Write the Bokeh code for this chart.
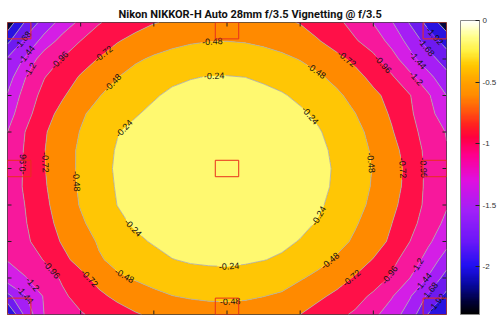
import numpy as np
import contourpy
from bokeh.plotting import figure
from bokeh.models import (FixedTicker, ColorBar, LinearColorMapper, CustomJSTickFormatter,
                          ColumnDataSource, Range1d, Title, AllLabels)
from bokeh.embed import file_html
from bokeh.resources import INLINE
from bokeh.core.properties import value

# ---------------- data (vignetting in EV) ----------------
x_grid = [0, 250, 500, 750, 1000, 1250, 1500, 1750, 2000, 2250, 2500, 2750, 3000,
          3250, 3500, 3750, 4000, 4250, 4500, 4750, 5000, 5250, 5500, 5750, 6000]
y_grid_top_down = [4000, 3750, 3500, 3250, 3000, 2750, 2500, 2250, 2000,
                   1750, 1500, 1250, 1000, 750, 500, 250, 0]

row_y4000 = [-2.32, -1.88, -1.58, -1.35, -1.14, -0.975, -0.88, -0.795, -0.73, -0.695, -0.67, -0.65, -0.645, -0.65, -0.67, -0.69, -0.73, -0.815, -0.91, -1.04, -1.21, -1.42, -1.70, -2.00, -2.30]
row_y3750 = [-1.98, -1.62, -1.36, -1.11, -0.96, -0.84, -0.735, -0.658, -0.585, -0.541, -0.506, -0.487, -0.484, -0.496, -0.525, -0.569, -0.62, -0.71, -0.82, -0.94, -1.06, -1.28, -1.52, -1.78, -2.02]
row_y3500 = [-1.65, -1.40, -1.06, -0.95, -0.81, -0.71, -0.61, -0.51, -0.45, -0.402, -0.37, -0.348, -0.345, -0.358, -0.39, -0.431, -0.49, -0.566, -0.66, -0.77, -0.91, -1.10, -1.36, -1.58, -1.80]
row_y3250 = [-1.55, -1.20, -0.97, -0.825, -0.70, -0.582, -0.484, -0.401, -0.335, -0.284, -0.250, -0.232, -0.230, -0.240, -0.269, -0.313, -0.373, -0.448, -0.540, -0.647, -0.78, -0.93, -1.13, -1.37, -1.60]
row_y3000 = [-1.42, -1.09, -0.89, -0.745, -0.60, -0.49, -0.39, -0.305, -0.26, -0.20, -0.175, -0.159, -0.157, -0.167, -0.19, -0.222, -0.28, -0.352, -0.44, -0.551, -0.67, -0.79, -0.95, -1.17, -1.44]
row_y2750 = [-1.30, -1.04, -0.81, -0.651, -0.51, -0.409, -0.311, -0.255, -0.195, -0.142, -0.116, -0.102, -0.099, -0.109, -0.130, -0.164, -0.209, -0.276, -0.367, -0.475, -0.598, -0.75, -0.92, -1.13, -1.32]
row_y2500 = [-1.20, -0.95, -0.745, -0.596, -0.47, -0.353, -0.25, -0.189, -0.14, -0.100, -0.075, -0.060, -0.057, -0.067, -0.09, -0.122, -0.17, -0.224, -0.31, -0.419, -0.54, -0.70, -0.88, -1.06, -1.21]
row_y2250 = [-1.15, -0.93, -0.73, -0.561, -0.45, -0.319, -0.225, -0.163, -0.112, -0.074, -0.048, -0.034, -0.031, -0.041, -0.062, -0.096, -0.141, -0.198, -0.277, -0.385, -0.508, -0.647, -0.82, -1.03, -1.19]
row_y2000 = [-1.12, -0.925, -0.73, -0.585, -0.44, -0.31, -0.215, -0.152, -0.10, -0.064, -0.037, -0.023, -0.021, -0.030, -0.052, -0.085, -0.13, -0.188, -0.263, -0.37, -0.49, -0.62, -0.785, -1.02, -1.19]
row_y1750 = [-1.12, -0.92, -0.745, -0.59, -0.45, -0.32, -0.225, -0.158, -0.107, -0.069, -0.043, -0.028, -0.026, -0.036, -0.057, -0.091, -0.136, -0.193, -0.270, -0.378, -0.501, -0.63, -0.80, -1.02, -1.18]
row_y1500 = [-1.13, -0.95, -0.77, -0.61, -0.465, -0.345, -0.238, -0.179, -0.128, -0.090, -0.064, -0.049, -0.047, -0.057, -0.078, -0.112, -0.157, -0.214, -0.298, -0.406, -0.53, -0.668, -0.823, -1.03, -1.18]
row_y1250 = [-1.15, -0.97, -0.80, -0.65, -0.515, -0.388, -0.28, -0.215, -0.165, -0.127, -0.100, -0.086, -0.084, -0.093, -0.115, -0.148, -0.194, -0.255, -0.347, -0.46, -0.57, -0.716, -0.88, -1.08, -1.25]
row_y1000 = [-1.18, -1.00, -0.845, -0.70, -0.568, -0.46, -0.36, -0.277, -0.222, -0.179, -0.153, -0.139, -0.136, -0.146, -0.167, -0.201, -0.249, -0.325, -0.416, -0.51, -0.62, -0.76, -0.96, -1.16, -1.36]
row_y750 = [-1.19, -1.08, -0.95, -0.78, -0.64, -0.50, -0.43, -0.355, -0.301, -0.245, -0.221, -0.207, -0.204, -0.214, -0.235, -0.265, -0.33, -0.414, -0.506, -0.613, -0.73, -0.90, -1.06, -1.29, -1.55]
row_y500 = [-1.32, -1.21, -1.08, -0.93, -0.79, -0.64, -0.51, -0.46, -0.41, -0.361, -0.31, -0.307, -0.30, -0.317, -0.345, -0.390, -0.46, -0.535, -0.63, -0.74, -0.85, -0.99, -1.20, -1.46, -1.78]
row_y250 = [-1.75, -1.45, -1.18, -1.00, -0.88, -0.77, -0.67, -0.59, -0.53, -0.485, -0.458, -0.439, -0.436, -0.449, -0.477, -0.51, -0.59, -0.68, -0.77, -0.88, -1.00, -1.18, -1.42, -1.72, -1.98]
row_y0 = [-2.20, -1.60, -1.20, -1.08, -0.98, -0.90, -0.82, -0.74, -0.68, -0.64, -0.60, -0.59, -0.58, -0.585, -0.60, -0.65, -0.72, -0.81, -0.91, -0.99, -1.14, -1.33, -1.55, -1.93, -2.15]

contour_levels = [-2.40, -2.16, -1.92, -1.68, -1.44, -1.20, -0.96, -0.72, -0.48, -0.24, 0.0]
band_colors = ["#05053c", "#2a12e0", "#6e1af0", "#a51ef5", "#d41ee6",
               "#f7189c", "#ff1048", "#ff8a00", "#ffc605", "#fff970"]

cbar_ticks = [0, -0.5, -1, -1.5, -2]
cbar_anchor_vals = [-2.39, -2.3, -2.15, -2.0, -1.8, -1.55, -1.3, -1.1, -0.95, -0.85, -0.75, -0.6, -0.5, -0.36, -0.25, -0.12, 0.0]
cbar_anchor_cols = ["#000000", "#000030", "#0808a0", "#2010f0", "#6a18f8", "#a020f8", "#e010e0",
                    "#ff0090", "#ff0040", "#ff2020", "#ff5010", "#ff8c00", "#ffa000", "#ffc800",
                    "#fff040", "#ffff90", "#ffffff"]

x_ticks = [1000, 2000, 3000, 4000, 5000]
y_ticks = [500, 1000, 1500, 2000, 2500, 3000, 3500]

roi_cx = [160, 3000, 5840]
roi_cy = [112, 2000, 3888]
roi_w = 320
roi_h = 225

title_text = "Nikon NIKKOR-H Auto 28mm f/3.5 Vignetting @ f/3.5"

# ---------------- build ----------------
X = np.array(x_grid, dtype=float)
Y = np.array(y_grid_top_down[::-1], dtype=float)
Z = np.array([row_y4000, row_y3750, row_y3500, row_y3250, row_y3000, row_y2750, row_y2500,
              row_y2250, row_y2000, row_y1750, row_y1500, row_y1250, row_y1000, row_y750,
              row_y500, row_y250, row_y0])[::-1]

def hex2rgb(h):
    h = h.lstrip("#")
    return [int(h[i:i + 2], 16) for i in (0, 2, 4)]

def make_palette(vals, cols, n=256):
    rgb = np.array([hex2rgb(c) for c in cols], dtype=float)
    t = np.linspace(vals[0], vals[-1], n)
    out = []
    for tv in t:
        r = np.interp(tv, vals, rgb[:, 0]); g = np.interp(tv, vals, rgb[:, 1]); b = np.interp(tv, vals, rgb[:, 2])
        out.append("#%02x%02x%02x" % (int(round(r)), int(round(g)), int(round(b))))
    return out

palette = make_palette(cbar_anchor_vals, cbar_anchor_cols)

x0, x1 = 0, 6000
y0, y1 = 0, 4000
frame_w, frame_h = 439, 292

p = figure(width=500, height=322, x_range=Range1d(x0, x1), y_range=Range1d(y0, y1),
           output_backend="svg", toolbar_location=None,
           min_border_left=7, min_border_right=54, min_border_top=22, min_border_bottom=8)
p.xaxis.visible = False
p.yaxis.visible = False
p.background_fill_color = "white"
p.border_fill_color = "white"
p.grid.visible = False
p.outline_line_color = "#404040"
p.outline_line_width = 1

# filled bands (lines drawn separately, broken under the labels)
p.contour(X, Y, Z, contour_levels, fill_color=band_colors, line_color=None)

sxs = frame_w / float(x1 - x0)
sys_ = frame_h / float(y1 - y0)
gen = contourpy.contour_generator(X, Y, Z)
char_w = {"-": 3.0, ".": 2.5}
lab_x, lab_y, lab_t, lab_a = [], [], [], []
seg_xs, seg_ys = [], []
spacing = 105.0
for lev in contour_levels[1:-1]:
    txt = "%g" % round(lev, 2)
    half = sum(char_w.get(c, 5.0) for c in txt) / 2.0 + 1.5
    for line in gen.lines(lev):
        line = np.asarray(line)
        if len(line) < 2:
            continue
        px = line[:, 0] * sxs
        py = line[:, 1] * sys_
        d = np.hypot(np.diff(px), np.diff(py))
        s = np.concatenate([[0.0], np.cumsum(d)])
        L = s[-1]
        cuts = []
        if L >= 30:
            n = max(1, int(L // spacing))
            for k in range(n):
                sp = (k + 0.5) * L / n
                s1 = max(sp - 8, 0.0); s2 = min(sp + 8, L)
                xa = np.interp(s1, s, px); ya = np.interp(s1, s, py)
                xb = np.interp(s2, s, px); yb = np.interp(s2, s, py)
                ang = np.arctan2(yb - ya, xb - xa)
                if ang > np.pi / 2:
                    ang -= np.pi
                if ang < -np.pi / 2:
                    ang += np.pi
                lab_x.append(np.interp(sp, s, line[:, 0]))
                lab_y.append(np.interp(sp, s, line[:, 1]))
                lab_t.append(txt)
                lab_a.append(float(ang))
                cuts.append((sp - half, sp + half))
        # visible pieces of the line between the label gaps
        bounds = [0.0]
        for a, b in cuts:
            bounds += [max(a, 0.0), min(b, L)]
        bounds.append(L)
        for a, b in zip(bounds[0::2], bounds[1::2]):
            if b - a <= 0.5:
                continue
            inside = (s > a) & (s < b)
            xs_ = [np.interp(a, s, line[:, 0])] + list(line[inside, 0]) + [np.interp(b, s, line[:, 0])]
            ys_ = [np.interp(a, s, line[:, 1])] + list(line[inside, 1]) + [np.interp(b, s, line[:, 1])]
            seg_xs.append(xs_)
            seg_ys.append(ys_)

p.multi_line(xs=seg_xs, ys=seg_ys, line_color="#aaaaaa", line_width=0.8)

src = ColumnDataSource(dict(x=lab_x, y=lab_y, t=lab_t, a=lab_a))
p.text(x="x", y="y", text="t", angle="a", source=src, text_font=value("Liberation Sans"),
       text_font_size="9px", text_color="#111111", text_align="center", text_baseline="middle")

# ROI rectangles
rx, ry = [], []
for cy in roi_cy:
    for cx in roi_cx:
        rx.append(cx); ry.append(cy)
p.rect(x=rx, y=ry, width=roi_w, height=roi_h, fill_color=None, line_color="#e8301c", line_width=1)

# inward tick marks on all four sides (4 px long)
tx = 4.0 / sxs
ty = 4.0 / sys_
xt = np.array(x_ticks, dtype=float)
yt = np.array(y_ticks, dtype=float)
p.segment(x0=np.concatenate([xt, xt]), y0=np.concatenate([np.full(len(xt), y0), np.full(len(xt), y1)]),
          x1=np.concatenate([xt, xt]), y1=np.concatenate([np.full(len(xt), y0 + ty), np.full(len(xt), y1 - ty)]),
          line_color="#222222", line_width=1)
p.segment(x0=np.concatenate([np.full(len(yt), x0), np.full(len(yt), x1)]), y0=np.concatenate([yt, yt]),
          x1=np.concatenate([np.full(len(yt), x0 + tx), np.full(len(yt), x1 - tx)]), y1=np.concatenate([yt, yt]),
          line_color="#222222", line_width=1)

mapper = LinearColorMapper(palette=palette, low=-2.39, high=0.0)
cb = ColorBar(color_mapper=mapper, width=19, height=294, location=(14, 0),
              ticker=FixedTicker(ticks=cbar_ticks),
              formatter=CustomJSTickFormatter(code="return String(Math.round(tick*10)/10);"),
              major_label_text_font="Liberation Sans",
              major_label_text_font_size="8px", major_label_text_color="#333333",
              major_tick_in=4, major_tick_out=0, major_tick_line_color="#222222",
              minor_tick_line_color=None, bar_line_color="#888888",
              label_standoff=3, padding=0, margin=0, background_fill_color="white")
if "major_label_policy" in cb.properties():
    cb.major_label_policy = AllLabels()
p.add_layout(cb, "right")

p.title = Title(text=title_text, align="left", offset=111, text_font="Roboto",
                text_font_size="11px", text_font_style="bold", text_color="#111111", standoff=3)

open("out.html", "w").write(file_html(p, INLINE))
